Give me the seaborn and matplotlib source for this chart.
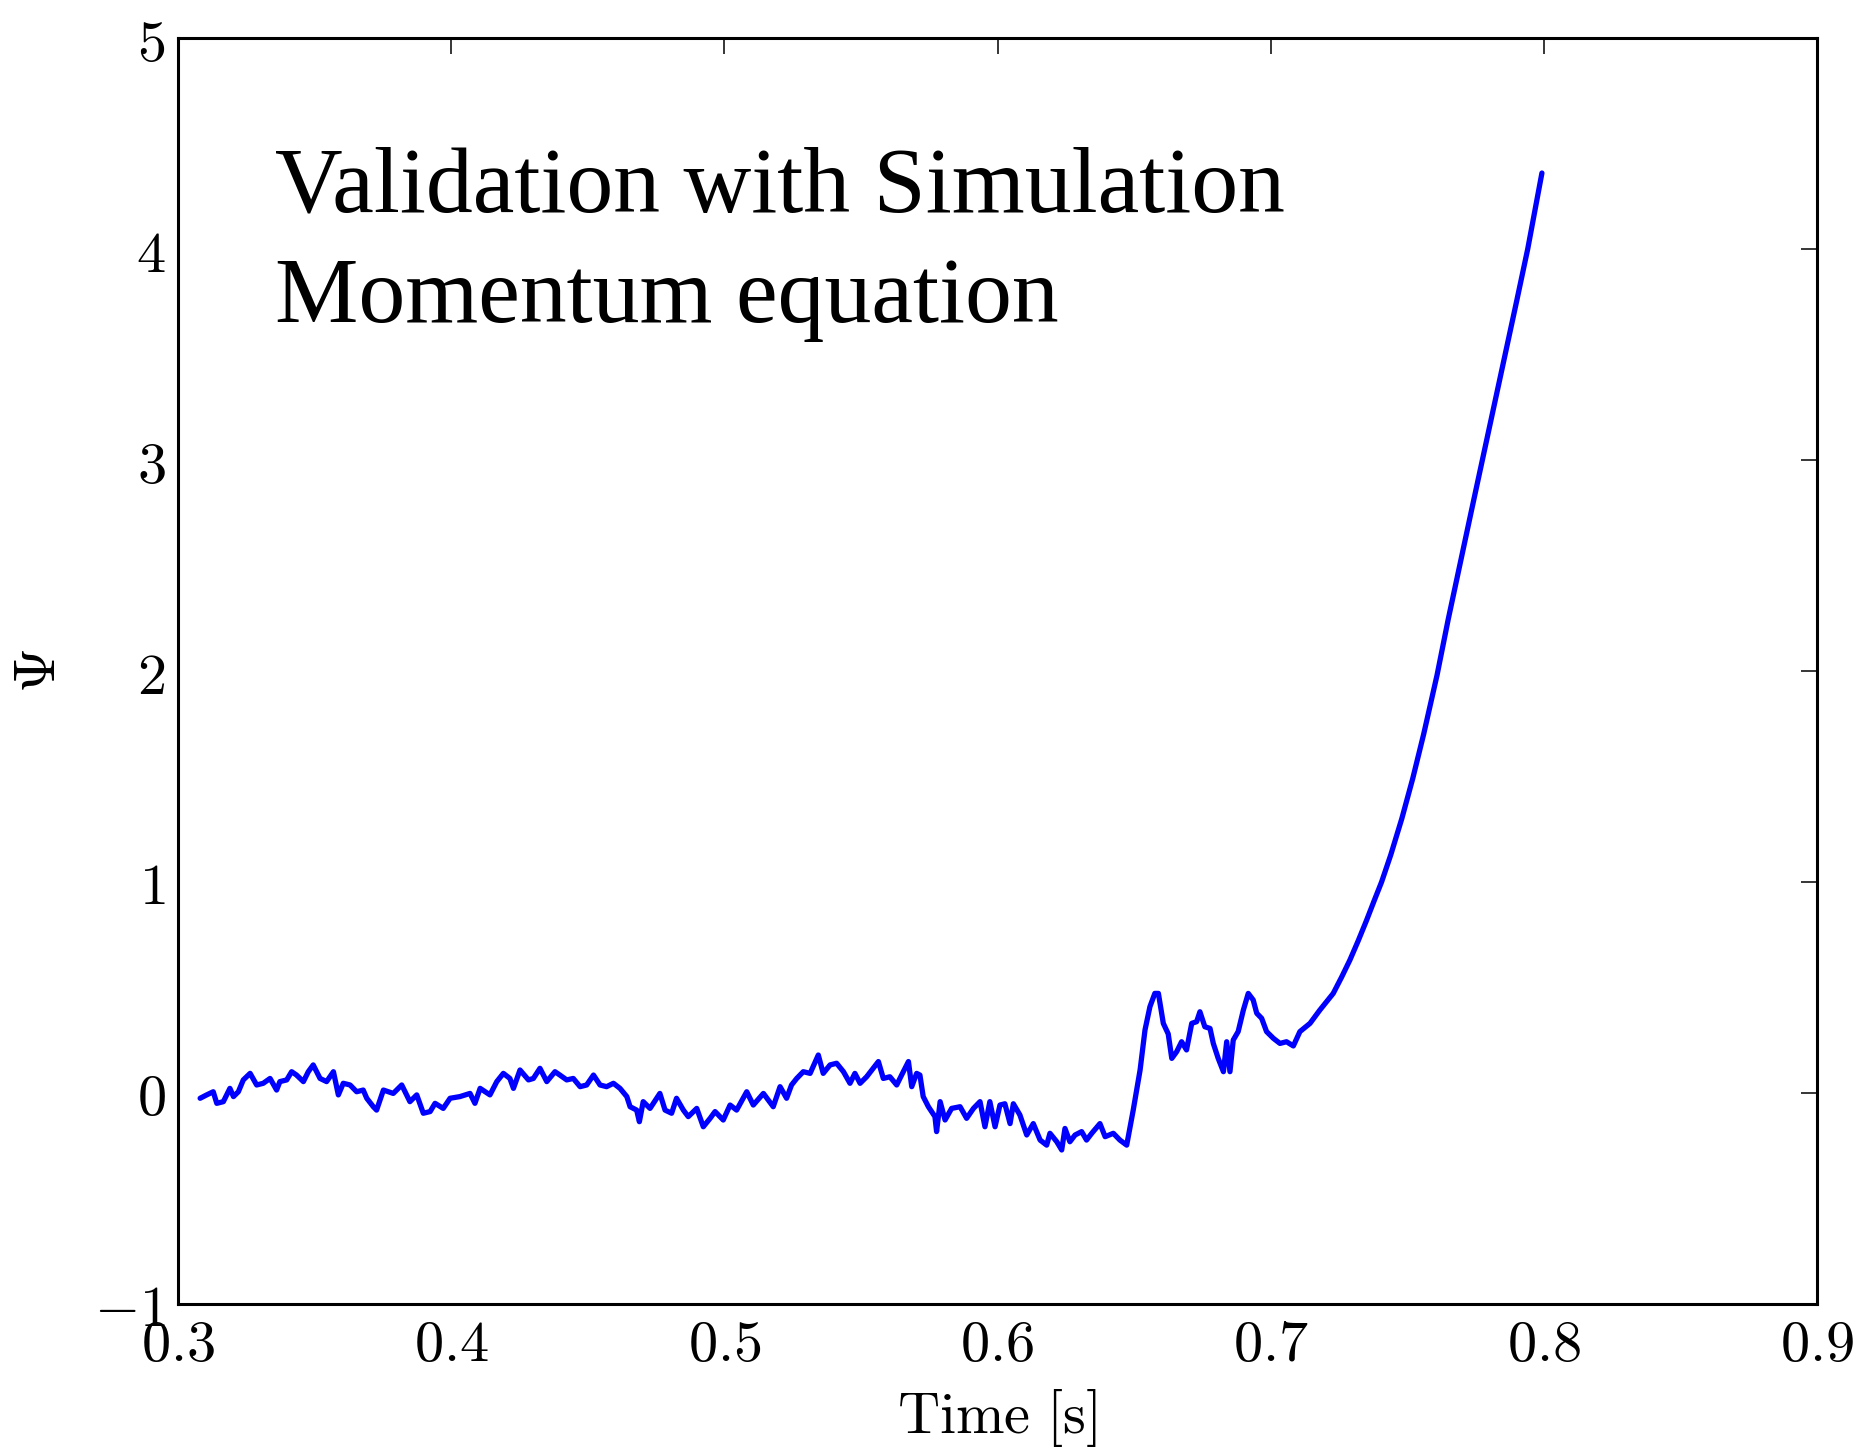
import matplotlib
matplotlib.use("Agg")
import matplotlib.pyplot as plt
import seaborn as sns
import pandas as pd
from matplotlib.ticker import FixedLocator, FixedFormatter

# ---- data ----
time_s = [
    0.3081, 0.3105, 0.3129, 0.3142, 0.3166, 0.3190, 0.3203, 0.3221, 0.3239, 0.3264,
    0.3288, 0.3312, 0.3337, 0.3361, 0.3373, 0.3398, 0.3416, 0.3434, 0.3459, 0.3477,
    0.3495, 0.3520, 0.3544, 0.3569, 0.3587, 0.3605, 0.3630, 0.3654, 0.3678, 0.3691,
    0.3715, 0.3727, 0.3752, 0.3788, 0.3819, 0.3849, 0.3874, 0.3898, 0.3923, 0.3941,
    0.3971, 0.3996, 0.4032, 0.4069, 0.4087, 0.4106, 0.4142, 0.4167, 0.4191, 0.4215,
    0.4228, 0.4252, 0.4283, 0.4301, 0.4325, 0.4350, 0.4380, 0.4398, 0.4423, 0.4447,
    0.4472, 0.4496, 0.4521, 0.4545, 0.4569, 0.4594, 0.4618, 0.4643, 0.4655,
    0.4679, 0.4689, 0.4703, 0.4728, 0.4764, 0.4783, 0.4807, 0.4825, 0.4850, 0.4868,
    0.4899, 0.4923, 0.4948, 0.4966, 0.4996, 0.5021, 0.5045, 0.5082, 0.5106, 0.5143,
    0.5179, 0.5204, 0.5228, 0.5246, 0.5265, 0.5289, 0.5314, 0.5344, 0.5362, 0.5387,
    0.5411, 0.5436, 0.5460, 0.5478, 0.5497, 0.5521, 0.5545, 0.5564, 0.5582, 0.5606,
    0.5631, 0.5649, 0.5674, 0.5686, 0.5704, 0.5716, 0.5728, 0.5747, 0.5771, 0.5777,
    0.5790, 0.5808, 0.5832, 0.5863, 0.5887, 0.5912, 0.5936, 0.5954, 0.5972, 0.5991,
    0.6009, 0.6027, 0.6046, 0.6058, 0.6082, 0.6107, 0.6131, 0.6156, 0.6180, 0.6192,
    0.6217, 0.6235, 0.6247, 0.6265, 0.6284, 0.6308, 0.6326, 0.6345, 0.6375, 0.6394,
    0.6424, 0.6448, 0.6473, 0.6497, 0.6522, 0.6540, 0.6558, 0.6576, 0.6589, 0.6607,
    0.6625, 0.6638, 0.6656, 0.6674, 0.6692, 0.6711, 0.6729, 0.6741, 0.6759, 0.6778,
    0.6790, 0.6808, 0.6827, 0.6839, 0.6851, 0.6863, 0.6881, 0.6900, 0.6918, 0.6936,
    0.6949, 0.6967, 0.6985, 0.7010, 0.7034, 0.7058, 0.7083, 0.7107, 0.7144, 0.7180,
    0.7229, 0.7260, 0.7290, 0.7320, 0.7350, 0.7380, 0.7406, 0.7440, 0.7480, 0.7520,
    0.7560, 0.7609, 0.7650, 0.7692, 0.7735, 0.7775, 0.7820, 0.7860, 0.7900, 0.7941,
    0.7993,
]
psi = [
    -0.025, -0.009, 0.006, -0.049, -0.041, 0.022, -0.017, 0.006, 0.062, 0.093,
    0.038, 0.046, 0.069, 0.014, 0.054, 0.062, 0.101, 0.085, 0.054, 0.101,
    0.133, 0.069, 0.054, 0.101, -0.009, 0.046, 0.038, 0.006, 0.014, -0.025,
    -0.065, -0.081, 0.014, -0.002, 0.038, -0.041, -0.009, -0.096, -0.088, -0.049,
    -0.073, -0.025, -0.017, -0.002, -0.049, 0.022, -0.009, 0.054, 0.093, 0.069,
    0.022, 0.109, 0.062, 0.069, 0.117, 0.054, 0.101, 0.085, 0.062, 0.069,
    0.030, 0.038, 0.085, 0.038, 0.030, 0.046, 0.022, -0.017, -0.065,
    -0.081, -0.136, -0.041, -0.073, -0.002, -0.081, -0.096, -0.025, -0.081, -0.112,
    -0.073, -0.160, -0.120, -0.088, -0.128, -0.057, -0.081, 0.006, -0.057, -0.002,
    -0.065, 0.030, -0.025, 0.038, 0.069, 0.101, 0.093, 0.180, 0.093, 0.133,
    0.141, 0.101, 0.046, 0.093, 0.046, 0.077, 0.117, 0.149, 0.069, 0.077,
    0.038, 0.085, 0.149, 0.030, 0.093, 0.085, -0.017, -0.065, -0.112, -0.183,
    -0.041, -0.128, -0.073, -0.065, -0.120, -0.073, -0.041, -0.160, -0.041, -0.160,
    -0.057, -0.051, -0.145, -0.051, -0.104, -0.199, -0.145, -0.223, -0.247, -0.191,
    -0.231, -0.270, -0.168, -0.231, -0.199, -0.183, -0.223, -0.191, -0.145, -0.207,
    -0.191, -0.223, -0.247, -0.080, 0.109, 0.299, 0.409, 0.472, 0.472, 0.330,
    0.280, 0.164, 0.196, 0.243, 0.204, 0.330, 0.338, 0.385, 0.314, 0.306,
    0.235, 0.164, 0.101, 0.243, 0.101, 0.251, 0.291, 0.393, 0.472, 0.441,
    0.378, 0.354, 0.291, 0.259, 0.235, 0.243, 0.223, 0.291, 0.330, 0.393,
    0.472, 0.550, 0.630, 0.720, 0.815, 0.915, 1.000, 1.130, 1.300, 1.490,
    1.700, 1.980, 2.245, 2.500, 2.760, 3.000, 3.270, 3.510, 3.750, 4.000,
    4.360,
]
x_ticks = [0.3, 0.4, 0.5, 0.6, 0.7, 0.8, 0.9]
x_tick_labels = ["$0.3$", "$0.4$", "$0.5$", "$0.6$", "$0.7$", "$0.8$", "$0.9$"]
y_ticks = [-1, 0, 1, 2, 3, 4, 5]
y_tick_labels = ["$-1$", "$0$", "$1$", "$2$", "$3$", "$4$", "$5$"]
annotation_lines = ["Validation with Simulation", "Momentum equation"]

df = pd.DataFrame({"t": time_s, "psi": psi})

sns.set_style("white")
plt.rcParams["mathtext.fontset"] = "cm"
plt.rcParams["font.family"] = ["DejaVu Sans"]

fig = plt.figure(figsize=(18.6, 14.47), dpi=100)
ax = fig.add_axes([178 / 1860, 1 - 1304 / 1447, (1817 - 178) / 1860, (1304 - 38) / 1447])

sns.lineplot(data=df, x="t", y="psi", ax=ax, color="#0000ff", linewidth=3.8,
             sort=False, estimator=None)

ax.set_xlim(0.3, 0.9)
ax.set_ylim(-1, 5)
ax.xaxis.set_major_locator(FixedLocator(x_ticks))
ax.xaxis.set_major_formatter(FixedFormatter(x_tick_labels))
ax.yaxis.set_major_locator(FixedLocator(y_ticks))
ax.yaxis.set_major_formatter(FixedFormatter(y_tick_labels))

for s in ax.spines.values():
    s.set_visible(True)
    s.set_color("black")
    s.set_linewidth(2.2)

ax.tick_params(axis="both", which="major", direction="in", length=11.5, width=1.1,
               color="black", labelsize=42, top=True, right=True, pad=9,
               labelcolor="black")

ax.set_xlabel(r"$\mathrm{Time\ [s]}$", fontsize=42, color="black", labelpad=10)
ax.set_ylabel(r"$\Psi$", fontsize=42, color="black", labelpad=19)

ax.text(0.059, 0.8626, annotation_lines[0], transform=ax.transAxes,
        fontsize=67.5, family="Liberation Serif", va="baseline", ha="left", color="black")
ax.text(0.059, 0.7757, annotation_lines[1], transform=ax.transAxes,
        fontsize=67.5, family="Liberation Serif", va="baseline", ha="left", color="black")

ax.grid(False)
fig.savefig("out.png", dpi=100, facecolor="white")
